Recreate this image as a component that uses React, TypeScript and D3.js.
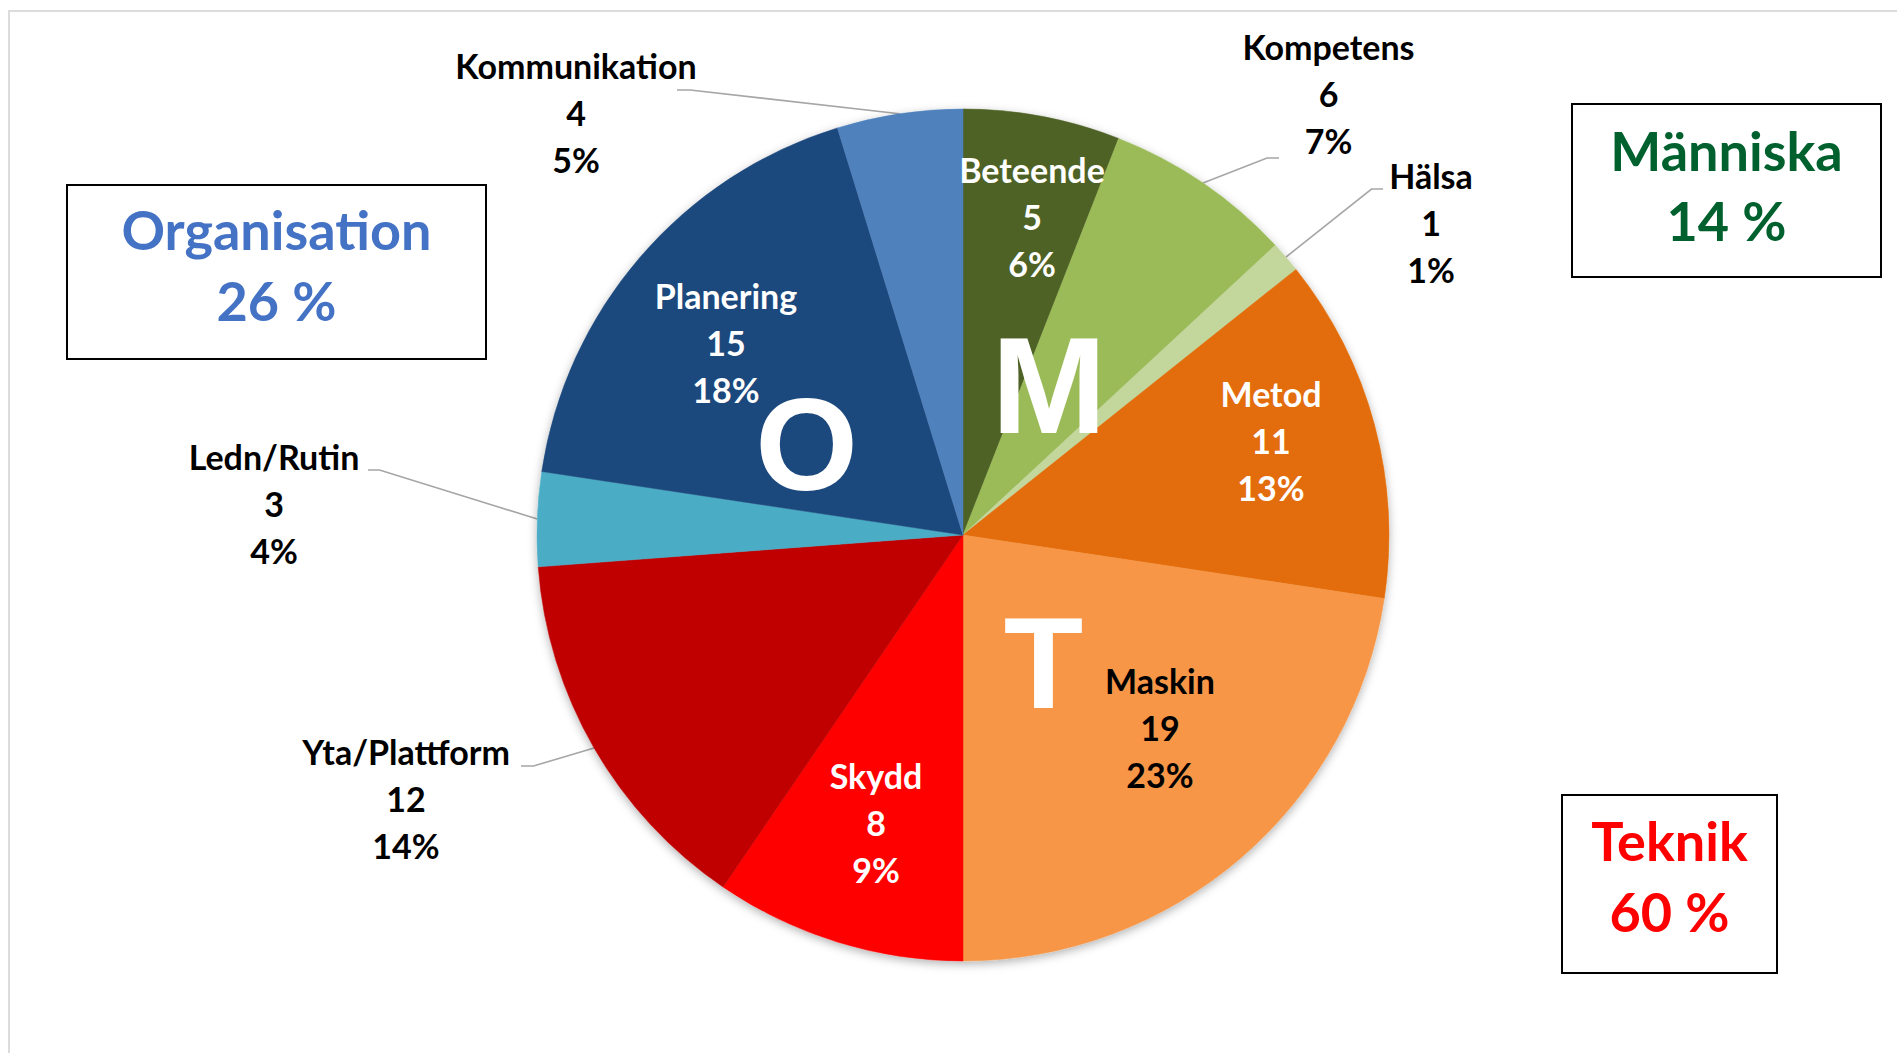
import React from 'react';
import * as d3 from 'd3';

// ---- data ----
const categories = ['Beteende', 'Kompetens', 'Hälsa', 'Metod', 'Maskin', 'Skydd', 'Yta/Plattform', 'Ledn/Rutin', 'Planering', 'Kommunikation'];
const counts = [5, 6, 1, 11, 19, 8, 12, 3, 15, 4];
const percentLabels = ['6%', '7%', '1%', '13%', '23%', '9%', '14%', '4%', '18%', '5%'];
const sliceColors = ['#4f6228', '#9bbb59', '#c3d69b', '#e36c09', '#f79646', '#ff0000', '#c00000', '#4bacc6', '#1f497d', '#4f81bd'];

const groupNames = ['Organisation', 'Människa', 'Teknik'];
const groupShares = ['26 %', '14 %', '60 %'];
const groupColors = ['#4472c4', '#00612e', '#ff0000'];
const groupLetters = ['O', 'M', 'T'];

// ---- layout ----
const W = 1897;
const H = 1053;
const CX = 963;
const CY = 535;
const R = 426;
const LINE = 47;
const LABEL_FONT = 'Lato, "Open Sans", sans-serif';
const LETTER_FONT = '"Liberation Sans", Arial, sans-serif';

// label middle-line centre, relative to the pie centre
const labelOffset: [number, number][] = [
  [69, -316], [365.5, -439], [468, -310], [308, -92], [197, 194.5],
  [-87, 290], [-557, 266], [-689, -29], [-237, -190], [-387, -420],
];
const labelFill = ['#fff', '#000', '#000', '#fff', '#000', '#fff', '#000', '#000', '#fff', '#000'];
// leader lines: [elbow, stub end] relative to pie centre (null = label inside slice)
const leaders: ([number, number][] | null)[] = [
  null,
  [[304, -377], [316, -377]],
  [[408.5, -346], [420, -346]],
  null, null, null,
  [[-429.5, 231], [-442, 231]],
  [[-583.5, -65], [-595, -65]],
  null,
  [[-273, -445], [-286, -445]],
];

// group boxes: [x0, y0, x1, y1], baselines
const boxRects = [[67, 185, 486, 359], [1572, 104, 1881, 277], [1562, 795, 1777, 973]];
const boxBaselines = [[250, 321], [171, 241], [861, 932]];
// big letters: centre x, baseline y (relative to pie centre), size
const letterPos: [number, number, number][] = [[-156.5, -45, 132], [86, -102, 138], [80.5, 173, 130]];

export default function App() {
  const pie = d3.pie<number>().sort(null).value((d) => d).startAngle(0).endAngle(2 * Math.PI);
  const arcs = pie(counts);
  const arc = d3.arc<d3.PieArcDatum<number>>().innerRadius(0).outerRadius(R);
  const edge = d3.arc<d3.PieArcDatum<number>>().innerRadius(R).outerRadius(R);

  return (
    <svg
      width={W}
      height={H}
      viewBox={`0 0 ${W} ${H}`}
      style={{ position: 'absolute', left: 0, top: 0, background: '#fff' }}
    >
      <defs>
        <filter id="pieShadow" x="-20%" y="-20%" width="140%" height="140%">
          <feDropShadow dx="0" dy="3" stdDeviation="5" floodColor="#000" floodOpacity="0.3" />
        </filter>
      </defs>
      <rect x={0} y={0} width={W} height={H} fill="#fff" />
      <rect x={9} y={11} width={W + 20} height={H + 20} fill="none" stroke="#dcdcdc" strokeWidth={2} />

      {/* leader lines */}
      <g>
        {arcs.map((a, i) => {
          const l = leaders[i];
          if (!l) return null;
          const [sx, sy] = edge.centroid(a);
          const pts: [number, number][] = [[CX + sx, CY + sy], [CX + l[0][0], CY + l[0][1]], [CX + l[1][0], CY + l[1][1]]];
          return <path key={i} d={d3.line()(pts) || ''} fill="none" stroke="#a6a6a6" strokeWidth={1.6} />;
        })}
      </g>

      {/* pie */}
      <g transform={`translate(${CX},${CY})`} filter="url(#pieShadow)">
        {arcs.map((a, i) => (
          <path key={i} d={arc(a) || ''} fill={sliceColors[i]} stroke={sliceColors[i]} strokeWidth={0.5} />
        ))}
      </g>

      {/* big group letters */}
      <g fontFamily={LETTER_FONT} fontWeight={700} fill="#fff" textAnchor="middle">
        {groupLetters.map((t, i) => (
          <text key={t} x={CX + letterPos[i][0]} y={CY + letterPos[i][1]} fontSize={letterPos[i][2]}>
            {t}
          </text>
        ))}
      </g>

      {/* data labels */}
      <g fontFamily={LABEL_FONT} fontWeight={700} fontSize={34} textAnchor="middle">
        {categories.map((c, i) => {
          const x = CX + labelOffset[i][0];
          const yMid = CY + labelOffset[i][1] + 11;
          const lines = [c, String(counts[i]), percentLabels[i]];
          return (
            <g key={c} fill={labelFill[i]}>
              {lines.map((s, j) => (
                <text key={j} x={x} y={yMid + (j - 1) * LINE}>
                  {s}
                </text>
              ))}
            </g>
          );
        })}
      </g>

      {/* group boxes */}
      {groupNames.map((g, i) => {
        const [x0, y0, x1, y1] = boxRects[i];
        const mx = (x0 + x1) / 2;
        return (
          <g key={g}>
            <rect x={x0} y={y0} width={x1 - x0} height={y1 - y0} fill="#fff" stroke="#000" strokeWidth={2} />
            <g fontFamily={LABEL_FONT} fontWeight={700} fontSize={54} fill={groupColors[i]} textAnchor="middle">
              <text x={mx} y={boxBaselines[i][0]}>{g}</text>
              <text x={mx} y={boxBaselines[i][1]}>{groupShares[i]}</text>
            </g>
          </g>
        );
      })}
    </svg>
  );
}
